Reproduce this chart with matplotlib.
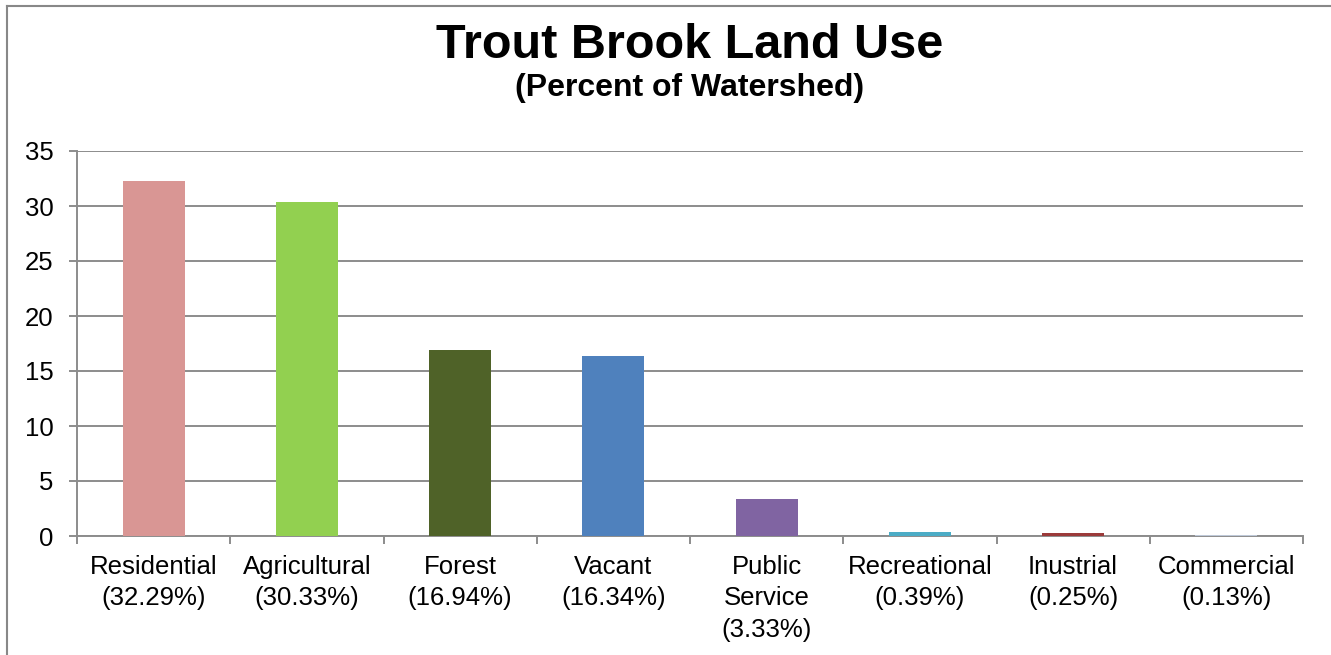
import matplotlib
matplotlib.use("Agg")
import matplotlib.pyplot as plt
from matplotlib.lines import Line2D
import numpy as np

# land use categories and share of watershed (%)
categories = ["Residential", "Agricultural", "Forest", "Vacant",
              "Public\nService", "Recreational", "Inustrial", "Commercial"]
percents = [32.29, 30.33, 16.94, 16.34, 3.33, 0.39, 0.25, 0.13]
bar_colors = ["#D99694", "#92D050", "#4F6228", "#4F81BD",
              "#8064A2", "#4BACC6", "#9B3A3A", "#BFC9D8"]
y_ticks = [0, 5, 10, 15, 20, 25, 30, 35]

plt.rcParams["font.family"] = ["Liberation Sans", "DejaVu Sans"]
grid_gray = "#8C8C8C"

fig = plt.figure(figsize=(13.31, 6.55), dpi=100)
ax = fig.add_axes([77 / 1331, 1 - 536 / 655, (1303 - 77) / 1331, (536 - 151) / 655])

x = np.arange(len(categories))
ax.bar(x, percents, width=0.405, color=bar_colors, zorder=3)

labels = ["{}\n({:.2f}%)".format(c, p) for c, p in zip(categories, percents)]
ax.set_xticks(x)
ax.set_xticklabels(labels, fontsize=18.5, linespacing=1.37, va="top")
ax.set_xticks(np.arange(len(categories) + 1) - 0.5, minor=True)
ax.tick_params(axis="x", which="major", length=0, pad=14)
ax.tick_params(axis="x", which="minor", length=6, width=1.4, color=grid_gray)

ax.set_xlim(-0.5, len(categories) - 0.5)
ax.set_ylim(0, 35)
ax.set_yticks(y_ticks)
ax.tick_params(axis="y", labelsize=18.5, length=6, width=1.4, color=grid_gray, pad=11)

ax.grid(axis="y", color=grid_gray, linewidth=1.4, zorder=0)
for side in ("top", "right"):
    ax.spines[side].set_visible(False)
for side in ("left", "bottom"):
    ax.spines[side].set_color(grid_gray)
    ax.spines[side].set_linewidth(1.4)

fig.text(690 / 1331, 1 - 58 / 655, "Trout Brook Land Use", ha="center",
         va="baseline", fontsize=35, fontweight="bold")
fig.text(690 / 1331, 1 - 96 / 655, "(Percent of Watershed)", ha="center",
         va="baseline", fontsize=23, fontweight="bold")

# chart frame (top and left edges)
fig.add_artist(Line2D([7 / 1331, 1.0], [1 - 6 / 655, 1 - 6 / 655],
                      transform=fig.transFigure, color="#888888", linewidth=1.5))
fig.add_artist(Line2D([7 / 1331, 7 / 1331], [0.0, 1 - 6 / 655],
                      transform=fig.transFigure, color="#888888", linewidth=1.5))

fig.savefig("out.png", dpi=100)
